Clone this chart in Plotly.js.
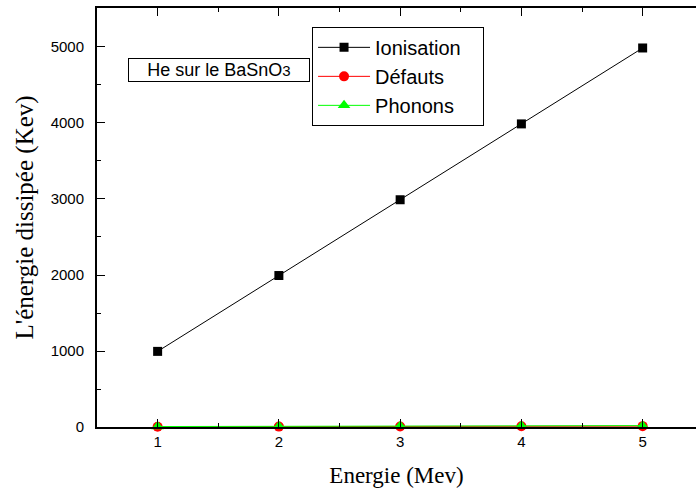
<!DOCTYPE html>
<html>
<head>
<meta charset="utf-8">
<script src="https://cdn.plot.ly/plotly-3.0.1.min.js"></script>
<style>html,body{margin:0;padding:0;background:#fff;overflow:hidden}</style>
</head>
<body>
<div id="chart" style="width:696px;height:493px"></div>
<script>
const energie = [1, 2, 3, 4, 5];
const ionisation = [995, 1993, 2990, 3988, 4987];
const defauts = [3, 5, 7, 9, 11];
const phonons = [6, 9, 12, 15, 18];
const seriesNames = ['Ionisation', 'Défauts', 'Phonons'];
const xTicks = [1, 2, 3, 4, 5];
const yTicks = [0, 1000, 2000, 3000, 4000, 5000];

const pad = '\u00a0\u00a0\u00a0';
const traces = [
  {x: energie, y: ionisation, name: seriesNames[0] + pad, mode: 'lines+markers',
   line: {color: '#000', width: 1}, marker: {symbol: 'square', size: 9, color: '#000'}, cliponaxis: false},
  {x: energie, y: defauts, name: seriesNames[1] + pad, mode: 'lines+markers',
   line: {color: '#ff0000', width: 1}, marker: {symbol: 'circle', size: 10, color: '#ff0000'}, cliponaxis: false},
  {x: energie, y: phonons, name: seriesNames[2] + pad, mode: 'lines+markers',
   line: {color: '#00ff00', width: 1}, marker: {symbol: 'triangle-up', size: 11, color: '#00ff00'}, cliponaxis: false}
];

const layout = {
  width: 696, height: 493,
  margin: {l: 97, r: 0, t: 8, b: 66},
  paper_bgcolor: '#fff', plot_bgcolor: '#fff',
  showlegend: true,
  font: {family: 'Liberation Sans, Arial, sans-serif', color: '#000'},
  xaxis: {
    range: [0.5, 5.44], tickvals: xTicks, ticktext: xTicks.map(String),
    ticks: 'inside', ticklen: 8, tickwidth: 1, tickcolor: '#000',
    minor: {dtick: 0.5, ticks: 'inside', ticklen: 4, tickcolor: '#000'},
    showline: true, linecolor: '#000', linewidth: 2, mirror: 'ticks',
    showgrid: false, zeroline: false, ticklabelstandoff: 0,
    tickfont: {size: 15, family: 'Liberation Sans, Arial, sans-serif'},
    title: {text: 'Energie (Mev)', font: {size: 23, family: 'Liberation Serif, Times New Roman, serif'}, standoff: 18}
  },
  yaxis: {
    range: [0, 5513], tickvals: yTicks, ticktext: yTicks.map(String),
    ticks: 'inside', ticklen: 8, tickwidth: 1, tickcolor: '#000',
    minor: {dtick: 500, ticks: 'inside', ticklen: 4, tickcolor: '#000'},
    showline: true, linecolor: '#000', linewidth: 2, mirror: false,
    showgrid: false, zeroline: false, ticklabelstandoff: 8,
    tickfont: {size: 15, family: 'Liberation Sans, Arial, sans-serif'},
    title: {text: "L'énergie dissipée (Kev)", font: {size: 25, family: 'Liberation Serif, Times New Roman, serif'}, standoff: 10}
  },
  legend: {
    x: 0.359, y: 0.955, xanchor: 'left', yanchor: 'top',
    bgcolor: '#fff', bordercolor: '#000', borderwidth: 1,
    font: {size: 20, family: 'Liberation Sans, Arial, sans-serif', color: '#000'},
    itemwidth: 52, tracegroupgap: 0
  },
  annotations: [{
    xref: 'paper', yref: 'paper', x: 0.052, y: 0.852, xanchor: 'left', yanchor: 'middle',
    text: "He sur le BaSnO<span style='font-size:15px'>3</span>", showarrow: false,
    font: {size: 18, family: 'Liberation Sans, Arial, sans-serif', color: '#000'},
    width: 178, height: 20, align: 'center',
    bordercolor: '#000', borderwidth: 1, borderpad: 1, bgcolor: '#fff'
  }]
};

Plotly.newPlot('chart', traces, layout, {displayModeBar: false, staticPlot: true});
</script>
</body>
</html>
